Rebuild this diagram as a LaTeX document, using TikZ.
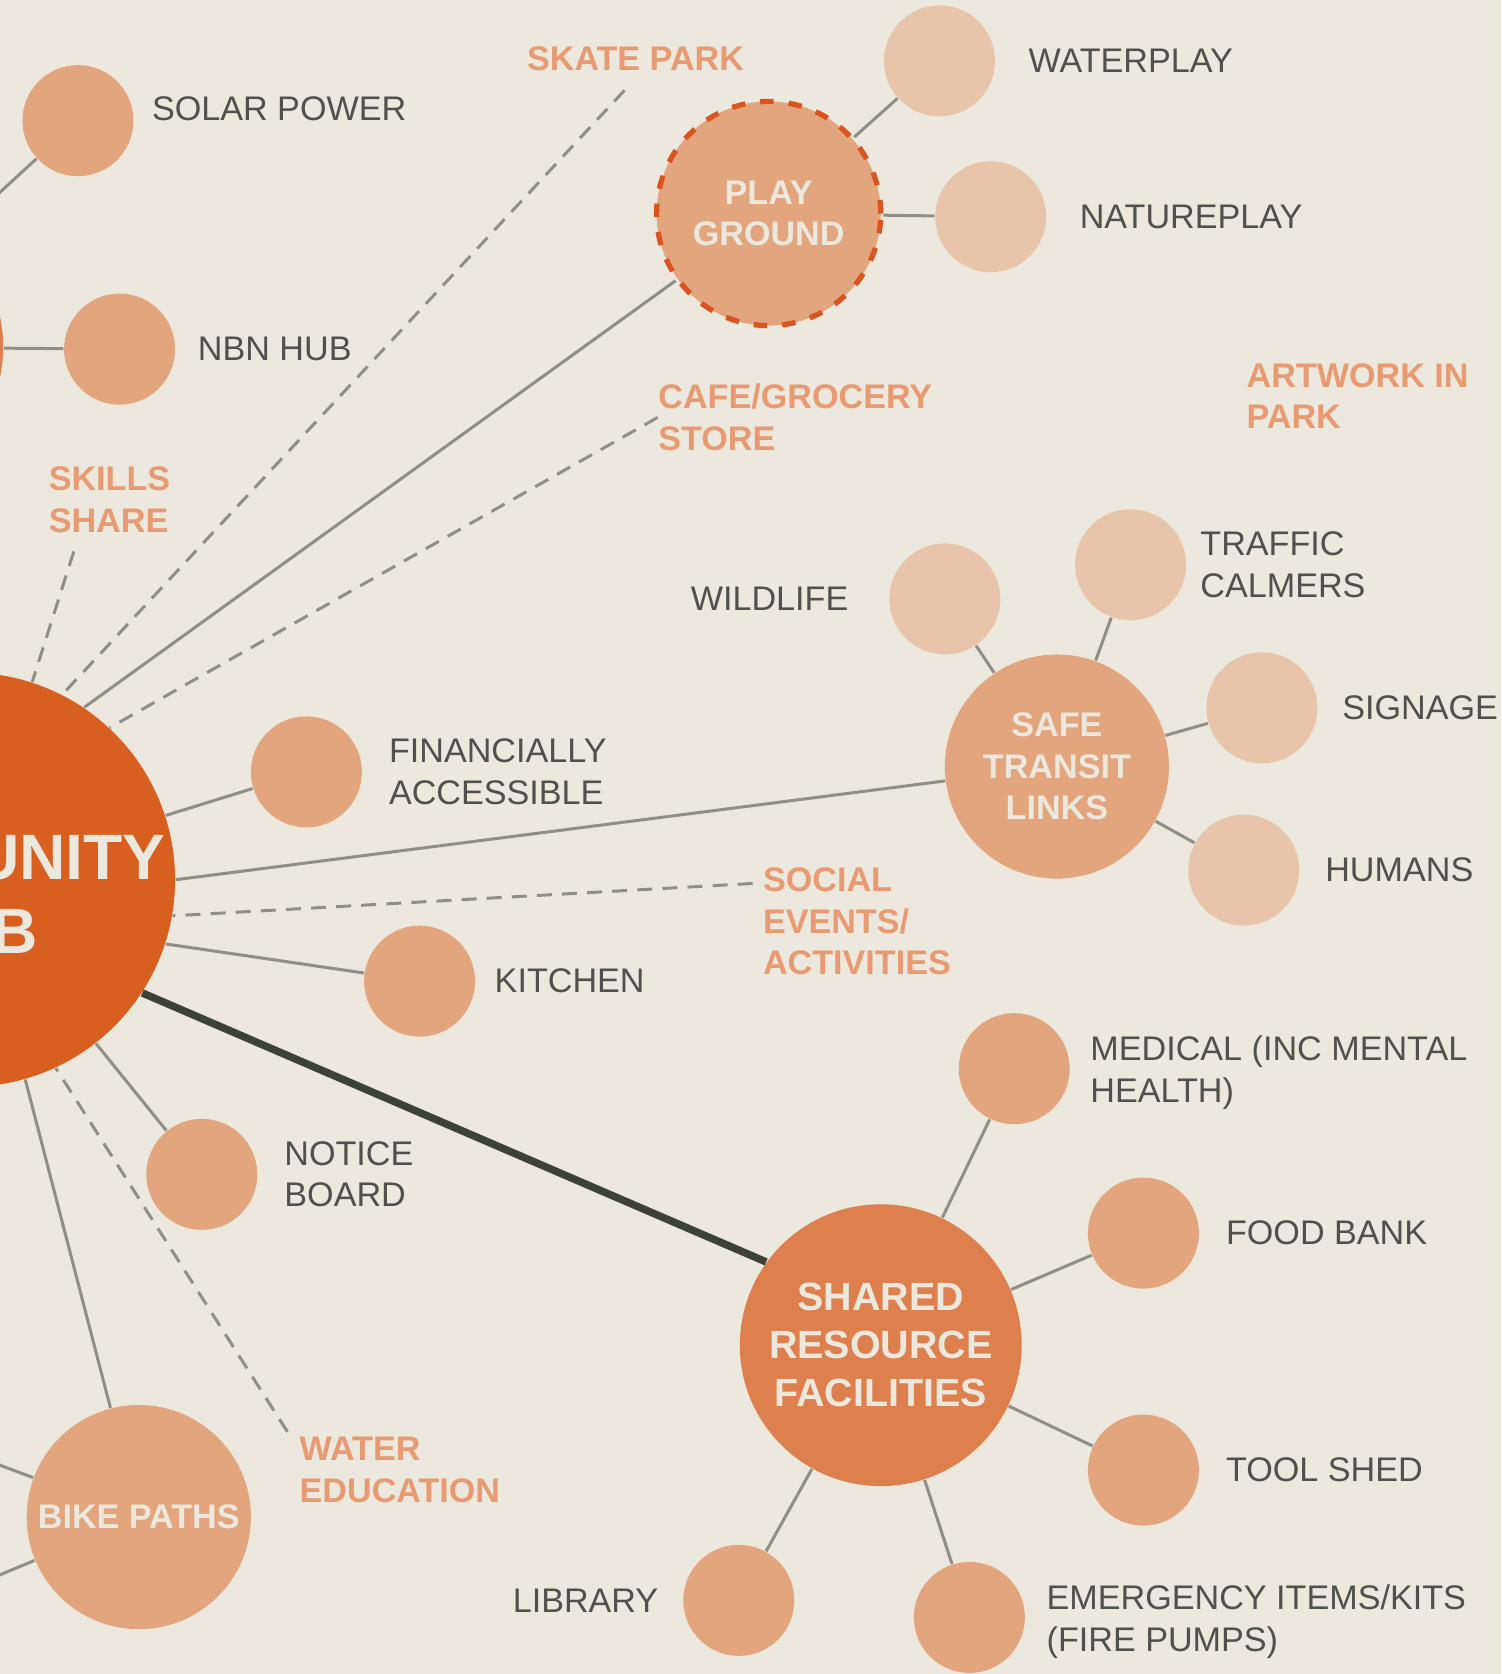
\documentclass[tikz,border=0pt]{standalone}
\usepackage{fontspec}
\setmainfont{Liberation Sans}
\usepackage{tikz}
\usetikzlibrary{positioning}
\definecolor{bgc}{RGB}{236,232,221}
\definecolor{hubc}{RGB}{217,95,32}
\definecolor{srfc}{RGB}{222,128,78}
\definecolor{midc}{RGB}{227,165,125}
\definecolor{palec}{RGB}{232,197,170}
\definecolor{rimc}{RGB}{217,84,30}
\definecolor{linec}{RGB}{143,143,135}
\definecolor{darkc}{RGB}{60,66,53}
\definecolor{txtc}{RGB}{80,80,78}
\definecolor{tagc}{RGB}{232,155,115}

\begin{document}
\begin{tikzpicture}[x=0.1mm,y=-0.1mm,node distance=2.2mm,
dot/.style={circle,fill=midc,minimum size=10.4mm,inner sep=0pt},
pale/.style={dot,fill=palec},
big/.style={circle,fill=midc,minimum size=21mm,inner sep=0pt,align=center,font=\bfseries\fontsize{9.1}{11.1}\selectfont,text=bgc},
lab/.style={inner sep=0pt,align=left,font=\fontsize{9.1}{11.1}\selectfont,text=txtc},
tag/.style={inner sep=0pt,align=left,font=\bfseries\fontsize{9.1}{11.1}\selectfont,text=tagc},
link/.style={draw=linec,line width=0.8pt},
dlink/.style={link,dash pattern=on 4pt off 2.7pt},
main/.style={draw=darkc,line width=2pt}]
\useasboundingbox (0,0) rectangle (1406,1568);
\fill[bgc] (0,0) rectangle (1406,1568);
\clip (0,0) rectangle (1406,1568);
% hubs
\node[circle,fill=srfc,minimum size=26.4mm] (west) at (-129,325) {};
\node[circle,fill=hubc,minimum size=38.8mm,label={[text=bgc,align=center,font=\bfseries\fontsize{17.1}{19.6}\selectfont,yshift=-1.4mm]center:{COMMUNITY\\HUB}}] (hub) at (-30,824) {};
\node[big,draw=rimc,line width=1.4pt,dash pattern=on 3.6pt off 4pt] (play) at (720,200) {PLAY\\GROUND};
\node[big] (transit) at (990,718) {SAFE\\TRANSIT\\LINKS};
\node[big] (bike) at (130,1421) {BIKE PATHS};
\node[circle,fill=srfc,minimum size=26.4mm,inner sep=0pt,align=center,text=bgc,font=\bfseries\fontsize{10.5}{12.8}\selectfont] (shared) at (825,1260) {SHARED\\RESOURCE\\FACILITIES};
\coordinate (bl1) at (-60,1350);
\coordinate (bl2) at (-60,1500);
% leaves
\node[dot] (solar) at (73,113) {};
\node[lab,right=1.6mm of solar,yshift=1.1mm] (solarl) {SOLAR POWER};
\node[dot] (nbn) at (112,327) {};
\node[lab,right=2mm of nbn] (nbnl) {NBN HUB};
\node[pale] (water) at (880,57) {};
\node[lab,right=3mm of water] (waterl) {WATERPLAY};
\node[pale] (nature) at (928,203) {};
\node[lab,right=3mm of nature] (naturel) {NATUREPLAY};
\node[pale] (wild) at (885,561) {};
\node[lab,left=3.7mm of wild] (wildl) {WILDLIFE};
\node[pale] (traffic) at (1059,529) {};
\node[lab,right=1.2mm of traffic] (trafficl) {TRAFFIC\\CALMERS};
\node[pale] (sign) at (1182,663) {};
\node[lab,right=2.2mm of sign] (signl) {SIGNAGE};
\node[pale] (human) at (1165,815) {};
\node[lab,right=2.3mm of human] (humanl) {HUMANS};
\node[dot] (finance) at (287,723) {};
\node[lab,right=2.4mm of finance] (financel) {FINANCIALLY\\ACCESSIBLE};
\node[dot] (kitchen) at (393,919) {};
\node[lab,right=1.7mm of kitchen] (kitchenl) {KITCHEN};
\node[dot] (notice) at (189,1100) {};
\node[lab,right=2.4mm of notice] (noticel) {NOTICE\\BOARD};
\node[dot] (medical) at (950,1001) {};
\node[lab,right=1.8mm of medical,yshift=-0.4mm] (medicall) {MEDICAL (INC MENTAL\\HEALTH)};
\node[dot] (food) at (1071,1155) {};
\node[lab,right=2.4mm of food] (foodl) {FOOD BANK};
\node[dot] (tool) at (1071,1377) {};
\node[lab,right=2.4mm of tool] (tooll) {TOOL SHED};
\node[dot] (emerg) at (908,1515) {};
\node[lab,right=1.9mm of emerg,yshift=-0.4mm] (emergl) {EMERGENCY ITEMS/KITS\\(FIRE PUMPS)};
\node[dot] (library) at (692,1499) {};
\node[lab,left=2.2mm of library] (libraryl) {LIBRARY};
% ideas
\node[tag,anchor=west] (skate) at (493,55) {SKATE PARK};
\node[tag,anchor=west] (cafe) at (616,391) {CAFE/GROCERY\\STORE};
\node[tag,anchor=west] (artwork) at (1167,371) {ARTWORK IN\\PARK};
\node[tag,anchor=west] (skills) at (45,468) {SKILLS\\SHARE};
\node[tag,anchor=west] (social) at (714,863) {SOCIAL\\EVENTS/\\ACTIVITIES};
\node[tag,anchor=west] (watered) at (280,1377) {WATER\\EDUCATION};
% connectors
\draw[link] (solar) -- (west.51);
\draw[link] (nbn) -- (west);
\draw[link] (water) -- (play);
\draw[link] (nature) -- (play);
\draw[link] (play) -- (hub.56);
\draw[dlink,shorten <=2.4mm] ([xshift=0.6mm]skate.south) -- (hub.63);
\draw[dlink] (cafe.west) -- (hub.47);
\draw[dlink,shorten <=1.8mm] ([xshift=-2.8mm]skills.south) -- (hub.72);
\draw[link] (finance) -- (hub.18);
\draw[link] (transit) -- (hub.0);
\draw[dlink,shorten <=0.9mm] ([yshift=3.6mm]social.west) -- (hub.-10);
\draw[link] (kitchen) -- (hub.-18);
\draw[main] (hub.-33) -- (shared.144);
\draw[link] (notice) -- (hub.-52);
\draw[dlink,shorten <=2mm] ([yshift=1.9mm]watered.west) -- (hub.-65);
\draw[link] (bike) -- (hub.-74);
\draw[link] (bike) -- (bl1);
\draw[link] (bike) -- (bl2);
\draw[link] (wild) -- (transit);
\draw[link] (traffic) -- (transit);
\draw[link] (sign) -- (transit);
\draw[link] (human) -- (transit);
\draw[link] (medical) -- (shared);
\draw[link] (food) -- (shared);
\draw[link] (tool) -- (shared);
\draw[link] (emerg) -- (shared);
\draw[link] (library) -- (shared);
\end{tikzpicture}
\end{document}
